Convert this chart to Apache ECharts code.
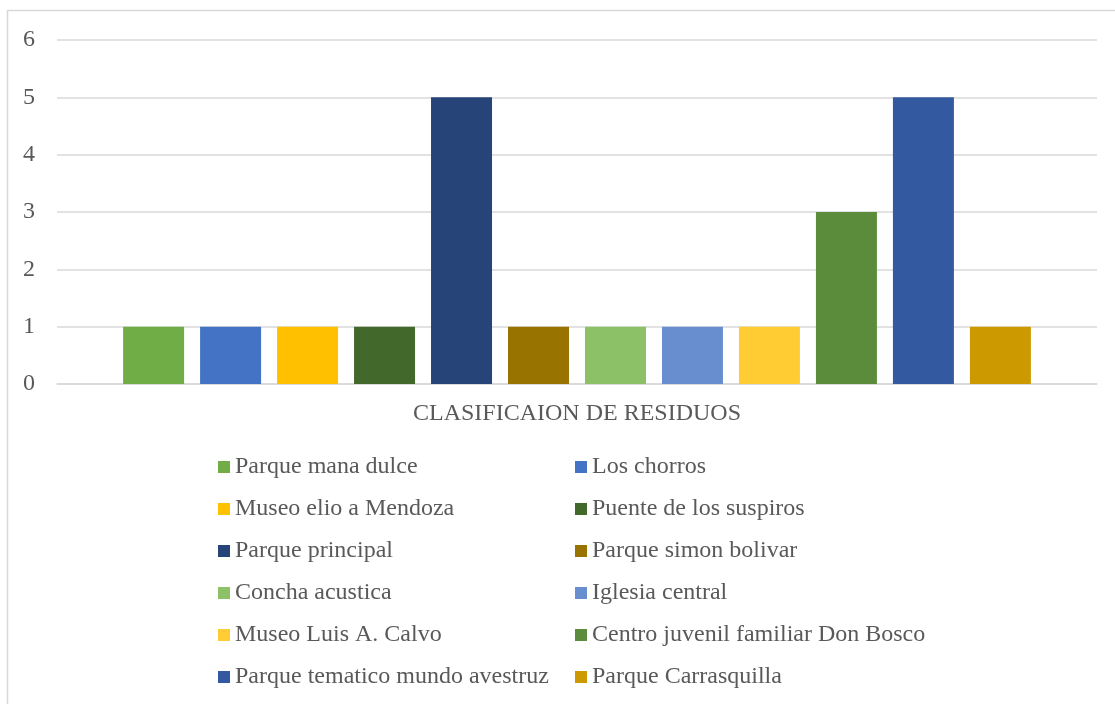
<!DOCTYPE html>
<html>
<head>
<meta charset="utf-8">
<script src="https://cdn.jsdelivr.net/npm/echarts@6/dist/echarts.min.js"></script>
<style>
html,body{margin:0;padding:0;background:#fff;}
#chart{width:1115px;height:704px;}
</style>
</head>
<body>
<div id="chart"></div>
<script>
const categories = ['CLASIFICAION DE RESIDUOS'];
const seriesNames = [
  'Parque mana dulce', 'Los chorros', 'Museo elio a Mendoza', 'Puente de los suspiros',
  'Parque principal', 'Parque simon bolivar', 'Concha acustica', 'Iglesia central',
  'Museo Luis A. Calvo', 'Centro juvenil familiar Don Bosco', 'Parque tematico mundo avestruz', 'Parque Carrasquilla'
];
const seriesValues = [1, 1, 1, 1, 5, 1, 1, 1, 1, 3, 5, 1];
const colors = ['#70ad47', '#4472c4', '#ffc000', '#43682b', '#264478', '#997300',
  '#8cc168', '#698ed0', '#ffcd33', '#5b8c3b', '#335aa1', '#cc9a00'];
const yTicks = [0, 1, 2, 3, 4, 5, 6];

const font = 'Liberation Serif, Times New Roman, serif';
const textColor = '#595959';

const chart = echarts.init(document.getElementById('chart'));
const series = seriesNames.map((n, i) => ({
  name: n,
  type: 'bar',
  data: [seriesValues[i]],
  barWidth: 61,
  barGap: '26.2%',
  itemStyle: { color: colors[i] }
}));
const leftNames = seriesNames.filter((_, i) => i % 2 === 0);
const rightNames = seriesNames.filter((_, i) => i % 2 === 1);
const legendCommon = {
  orient: 'vertical',
  top: 455,
  padding: 0,
  itemWidth: 12,
  itemHeight: 12,
  itemGap: 18,
  icon: 'rect',
  textStyle: { fontFamily: font, fontSize: 24, color: textColor, lineHeight: 24 }
};
chart.setOption({
  animation: false,
  color: colors,
  graphic: [{
    type: 'rect',
    shape: { x: 7.5, y: 10.5, width: 1120, height: 710 },
    style: { fill: 'none', stroke: '#d9d9d9', lineWidth: 1.5 },
    silent: true
  }],
  grid: { left: 57, right: 18, top: 40, bottom: 320 },
  legend: [
    Object.assign({}, legendCommon, { left: 218, data: leftNames }),
    Object.assign({}, legendCommon, { left: 575, data: rightNames })
  ],
  xAxis: {
    type: 'category',
    data: categories,
    axisLine: { lineStyle: { color: '#d9d9d9', width: 1.5 } },
    axisTick: { show: false },
    axisLabel: { fontFamily: font, fontSize: 24, color: textColor, margin: 18 }
  },
  yAxis: {
    type: 'value',
    min: yTicks[0],
    max: yTicks[yTicks.length - 1],
    interval: 1,
    axisLine: { show: false },
    axisTick: { show: false },
    splitLine: { lineStyle: { color: '#d9d9d9', width: 1.5 } },
    axisLabel: { fontFamily: font, fontSize: 24, color: textColor, margin: 22 }
  },
  series: series
});
</script>
</body>
</html>
